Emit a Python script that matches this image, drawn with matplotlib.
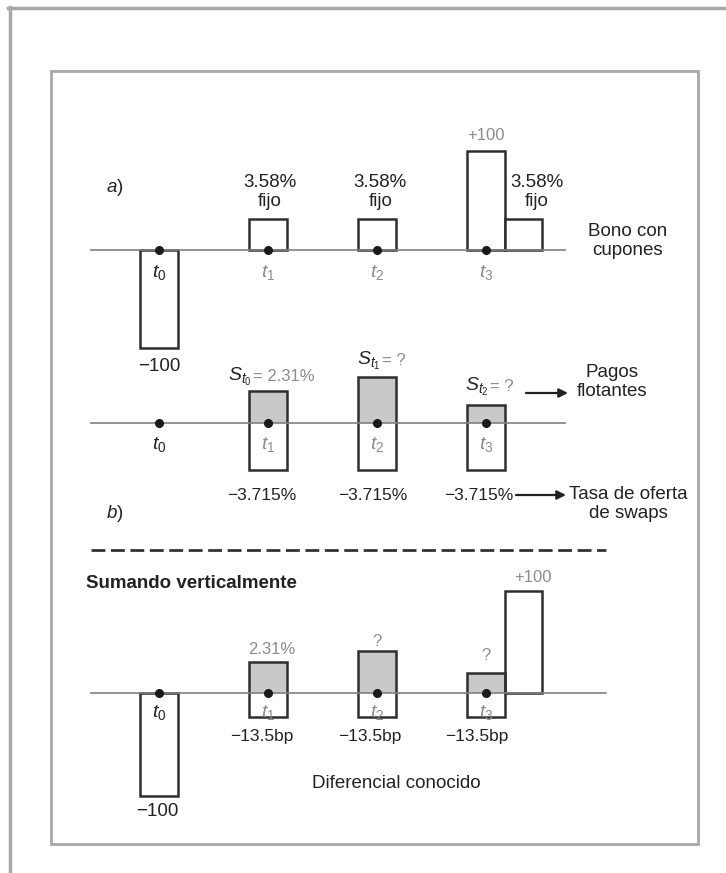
import matplotlib
matplotlib.use("Agg")
import matplotlib.pyplot as plt
from matplotlib.patches import Rectangle
from matplotlib.lines import Line2D

plt.rcParams["font.family"] = ["Liberation Sans", "DejaVu Sans"]
plt.rcParams["mathtext.fontset"] = "custom"
plt.rcParams["mathtext.rm"] = "Liberation Sans"
plt.rcParams["mathtext.it"] = "Liberation Sans:italic"
plt.rcParams["mathtext.bf"] = "Liberation Sans:bold"

# datos (alturas esquemáticas tal como se dibujan)
tiempos = [0, 1, 2, 3]
etiquetas_t = ["$t_0$", "$t_1$", "$t_2$", "$t_3$"]

# a) bono con cupones
bono_t0 = -98
bono_cupones = [31, 31, 31]
bono_principal = 99
cupon_txt = "3.58%\nfijo"

# b) swap: pagos flotantes y tasa fija
flotantes = [32, 46, 18]
fijos = [-47, -47, -47]
s_nombres = ["$S_{t_0}$", "$S_{t_1}$", "$S_{t_2}$"]
s_valores = ["= 2.31%", "= ?", "= ?"]
fijo_txt = "\u22123.715%"

# c) suma vertical
suma_flot = [31, 42, 20]
suma_dif = [-24, -24, -24]
suma_t0 = -103
suma_principal = 102
suma_txt = ["2.31%", "?", "?"]
dif_txt = "\u221213.5bp"

W, H = 726, 873
X0, DX = 159, 109
ANCHO = 0.34
NEGRO = "#222222"
GRIS = "#8c8c8c"
BORDE = "#2e2e2e"
RELLENO = "#c9c9c9"
FS = 13.5
FS2 = 12

fig = plt.figure(figsize=(W / 100, H / 100), dpi=100)


def xp(p):
    return (p - X0) / DX


def panel(base, half=160):
    ax = fig.add_axes([0, 1 - (base + half) / H, 1, 2 * half / H])
    ax.set_xlim(-X0 / DX, (W - X0) / DX)
    ax.set_ylim(-half, half)
    ax.axis("off")
    ax.patch.set_alpha(0)
    return ax


def eje(ax, fin, ty, colores):
    ax.plot([xp(91), xp(fin)], [0, 0], color="#808080", lw=1.2, zorder=3)
    ax.plot(tiempos, [0] * 4, "o", color="#1a1a1a", ms=5.5, zorder=4)
    for t, lab, c in zip(tiempos, etiquetas_t, colores):
        ax.text(t, ty, lab, ha="center", va="center", fontsize=14, color=c)


def flecha(ax, x1, x2, y):
    ax.annotate("", xy=(xp(x2), y), xytext=(xp(x1), y),
                arrowprops=dict(arrowstyle="-|>", color=NEGRO, lw=1.6,
                                mutation_scale=13, shrinkA=0, shrinkB=0))


# marcos
fig.add_artist(Line2D([8 / W, 1], [1 - 8 / H] * 2, color="#a8a8a8", lw=2.5))
fig.add_artist(Line2D([9.5 / W] * 2, [0, 1 - 7 / H], color="#a8a8a8", lw=2.5))
fig.add_artist(Rectangle((51 / W, 1 - 844 / H), (698 - 51) / W, (844 - 71) / H,
                         transform=fig.transFigure, fill=False,
                         ec="#a8a8a8", lw=2))

# ---------- a) ----------
ax = panel(250)
barra = dict(width=ANCHO, facecolor="white", edgecolor=BORDE, lw=1.8, zorder=2)
ax.bar(tiempos[0], bono_t0, **barra)
ax.bar(tiempos[1:3], bono_cupones[:2], **barra)
ax.bar(tiempos[3], bono_principal, **barra)
ax.bar(tiempos[3] + ANCHO, bono_cupones[2], **barra)
eje(ax, 565, -23, [NEGRO, GRIS, GRIS, GRIS])
for x in [tiempos[1] + 0.02, tiempos[2] + 0.03, xp(537)]:
    ax.text(x, 58, cupon_txt, ha="center", va="center", fontsize=FS,
            color=NEGRO, linespacing=1.15)
ax.text(tiempos[3], 115, "+100", ha="center", va="center", fontsize=FS2, color=GRIS)
ax.text(tiempos[0], -117, "\u2212100", ha="center", va="center", fontsize=FS, color=NEGRO)
ax.text(xp(106), 63, "$a$)", ha="left", va="center", fontsize=FS, color=NEGRO)
ax.text(xp(628), 9, "Bono con\ncupones", ha="center", va="center", fontsize=FS,
        color=NEGRO, linespacing=1.15)

# ---------- b) ----------
ax = panel(423)
ax.bar(tiempos[1:], flotantes, width=ANCHO, color=RELLENO, lw=0, zorder=2)
ax.bar(tiempos[1:], [f - s for f, s in zip(flotantes, fijos)], bottom=fijos,
       width=ANCHO, fill=False, edgecolor=BORDE, lw=1.8, zorder=3)
eje(ax, 565, -22, [NEGRO, GRIS, GRIS, GRIS])
s_pos = [(252, 42), (381, 58), (489, 32)]
for (px, y), nom, val in zip(s_pos, s_nombres, s_valores):
    ax.text(xp(px), y, nom, ha="right", va="baseline", fontsize=FS + 0.5, color=NEGRO)
    ax.text(xp(px + 1), y, val, ha="left", va="baseline", fontsize=FS2, color=GRIS)
for px in [262, 373, 479]:
    ax.text(xp(px), -72, fijo_txt, ha="center", va="center", fontsize=FS2 + 0.5, color=NEGRO)
flecha(ax, 526, 568, 30)
ax.text(xp(612), 41, "Pagos\nflotantes", ha="center", va="center", fontsize=FS,
        color=NEGRO, linespacing=1.15)
flecha(ax, 516, 566, -72)
ax.text(xp(628), -81, "Tasa de oferta\nde swaps", ha="center", va="center",
        fontsize=FS, color=NEGRO, linespacing=1.15)
ax.text(xp(106), -90, "$b$)", ha="left", va="center", fontsize=FS, color=NEGRO)

# ---------- suma ----------
ax = panel(693)
ax.plot([xp(91), xp(606)], [143, 143], color="#333333", lw=2.0,
        dashes=(5, 2))
ax.text(xp(86), 110, "Sumando verticalmente", ha="left", va="center",
        fontsize=FS, fontweight="bold", color=NEGRO)
ax.bar(tiempos[1:], suma_flot, width=ANCHO, color=RELLENO, lw=0, zorder=2)
ax.bar(tiempos[1:], [f - s for f, s in zip(suma_flot, suma_dif)], bottom=suma_dif,
       width=ANCHO, fill=False, edgecolor=BORDE, lw=1.8, zorder=3)
ax.bar(tiempos[0], suma_t0, **barra)
ax.bar(tiempos[3] + ANCHO, suma_principal, **barra)
eje(ax, 606, -20, [NEGRO, GRIS, GRIS, GRIS])
for t, y, s in zip(tiempos[1:], [43, 52, 38], suma_txt):
    ax.text(t + 0.03 if s != "?" else t, y, s, ha="center", va="center",
            fontsize=FS2, color=GRIS)
ax.text(xp(533), 116, "+100", ha="center", va="center", fontsize=FS2, color=GRIS)
for px in [262, 370, 477]:
    ax.text(xp(px), -44, dif_txt, ha="center", va="center", fontsize=FS2 + 0.5, color=NEGRO)
ax.text(xp(157), -119, "\u2212100", ha="center", va="center", fontsize=FS, color=NEGRO)
ax.text(xp(396), -90, "Diferencial conocido", ha="center", va="center",
        fontsize=FS, color=NEGRO)

fig.savefig("out.png", dpi=100)
